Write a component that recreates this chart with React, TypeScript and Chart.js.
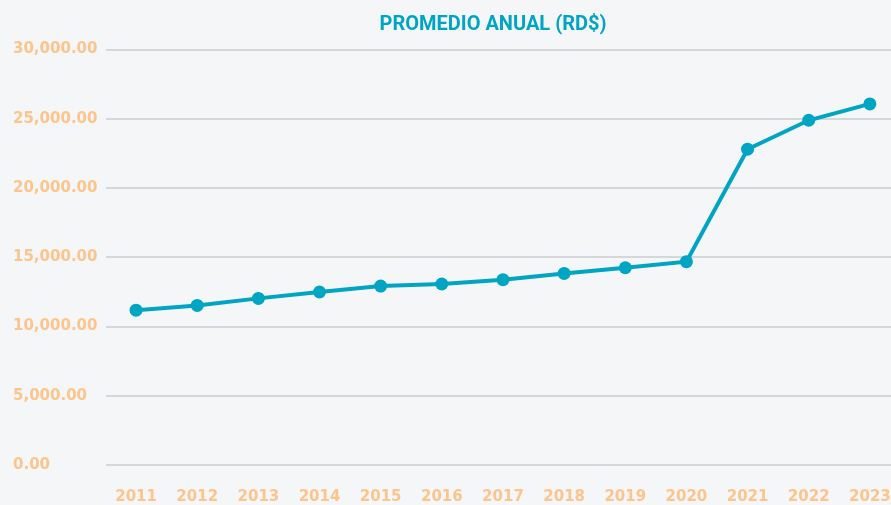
import React, { useEffect, useRef } from "react";
import { Chart, registerables } from "chart.js";

Chart.register(...registerables);

const TITLE = "PROMEDIO ANUAL (RD$)";
const years = ["2011", "2012", "2013", "2014", "2015", "2016", "2017", "2018", "2019", "2020", "2021", "2022", "2023"];
const promedio = [11180, 11520, 12030, 12490, 12920, 13070, 13380, 13830, 14240, 14680, 22800, 24890, 26070];
const yMin = 0;
const yMax = 30000;
const yStep = 5000;

const LINE = "#00a5c3";
const TICK = "#fdc48c";
const GRID = "#d6d7da";
const BG = "#f5f6f8";

const CANVAS_W = 914;
const CANVAS_H = 529;

const titlePlugin = {
  id: "customTitle",
  afterDraw(chart: any) {
    const ctx = chart.ctx;
    ctx.save();
    ctx.font = "bold 20px 'Liberation Sans Narrow', 'Roboto', sans-serif";
    ctx.fillStyle = LINE;
    ctx.textAlign = "center";
    ctx.textBaseline = "middle";
    ctx.fillText(TITLE, 493, 25);
    ctx.restore();
  },
};

const bgPlugin = {
  id: "bg",
  beforeDraw(chart: any) {
    const ctx = chart.ctx;
    ctx.save();
    ctx.fillStyle = BG;
    ctx.fillRect(0, 0, chart.width, chart.height);
    ctx.restore();
  },
};

export default function App() {
  const ref = useRef<HTMLCanvasElement | null>(null);
  useEffect(() => {
    if (!ref.current) return;
    const chart = new Chart(ref.current, {
      type: "line",
      data: {
        labels: years,
        datasets: [
          {
            label: TITLE,
            data: promedio,
            borderColor: LINE,
            backgroundColor: LINE,
            borderWidth: 4,
            pointRadius: 6.5,
            pointHoverRadius: 6.5,
            pointBackgroundColor: LINE,
            pointBorderWidth: 0,
            tension: 0,
          },
        ],
      },
      options: {
        animation: false,
        responsive: false,
        maintainAspectRatio: false,
        layout: { padding: { left: 13, right: 0, top: 49.5, bottom: 0 } },
        plugins: {
          legend: { display: false },
          title: { display: false },
          tooltip: { enabled: false },
        },
        scales: {
          x: {
            type: "category",
            offset: true,
            grid: { display: false, drawTicks: false, tickLength: 0 },
            border: { display: false },
            ticks: {
              color: TICK,
              padding: 23,
              maxRotation: 0,
              autoSkip: false,
              font: { family: "'DejaVu Sans', sans-serif", weight: "bold", size: 15 },
            },
          },
          y: {
            min: yMin,
            max: yMax,
            grid: { color: GRID, lineWidth: 2, drawTicks: false, tickLength: 0 },
            border: { display: false },
            afterFit: (scale: any) => {
              scale.width = 92.5;
            },
            ticks: {
              stepSize: yStep,
              color: TICK,
              padding: 8,
              crossAlign: "far",
              font: { family: "'DejaVu Sans', sans-serif", weight: "bold", size: 15 },
              callback: (v: any) =>
                Number(v).toLocaleString("en-US", { minimumFractionDigits: 2, maximumFractionDigits: 2 }),
            },
          },
        },
      },
      plugins: [bgPlugin, titlePlugin],
    });
    return () => chart.destroy();
  }, []);
  return (
    <div
      style={{
        position: "absolute",
        left: 0,
        top: 0,
        width: 891,
        height: 505,
        overflow: "hidden",
        background: BG,
      }}
    >
      <canvas ref={ref} width={CANVAS_W} height={CANVAS_H} style={{ display: "block" }} />
    </div>
  );
}
